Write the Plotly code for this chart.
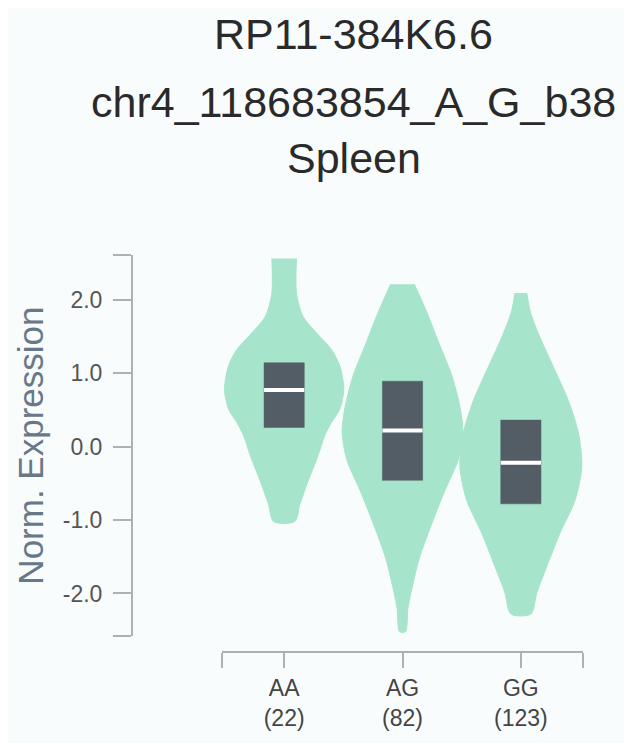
import plotly.graph_objects as go

# ---- data ----
genotypes = ["AA", "AG", "GG"]
counts = [22, 82, 123]

# violin outlines: expression levels (y) and half-widths (category units)
aa_y = [2.56, 2.09, 1.77, 1.50, 1.32, 1.10, 0.78, 0.51, 0.33, 0.15, -0.12, -0.48, -0.79, -1.02]
aa_w = [0.104, 0.104, 0.16, 0.30, 0.40, 0.47, 0.504, 0.47, 0.40, 0.343, 0.287, 0.20, 0.132, 0.09]

ag_y = [2.21, 1.85, 1.40, 0.95, 0.50, 0.18, -0.18, -0.63, -1.08, -1.53, -1.98, -2.21, -2.52]
ag_w = [0.10, 0.20, 0.31, 0.42, 0.49, 0.51, 0.47, 0.35, 0.24, 0.14, 0.073, 0.045, 0.025]

gg_y = [2.09, 1.84, 1.53, 1.08, 0.63, 0.18, -0.27, -0.73, -1.18, -1.63, -1.99, -2.28]
gg_w = [0.05, 0.079, 0.15, 0.276, 0.40, 0.487, 0.515, 0.458, 0.33, 0.22, 0.135, 0.084]

q1 = [0.26, -0.46, -0.78]
median = [0.77, 0.22, -0.22]
q3 = [1.14, 0.89, 0.36]

y_ticks = [-2.0, -1.0, 0.0, 1.0, 2.0]
y_range = [-2.581, 2.608]
x_range = [-0.525, 2.525]

title_lines = ["RP11-384K6.6", "chr4_118683854_A_G_b38", "Spleen"]
y_title = "Norm. Expression"

# ---- styles ----
VIOLIN = "#a7e4cc"
BOX = "#535d65"
AXIS = "#b0b0b0"
BG = "#f9fcfc"
FONT = "Liberation Sans, Arial, sans-serif"
box_w = 0.34

fig = go.Figure()

profiles = [(aa_y, aa_w), (ag_y, ag_w), (gg_y, gg_w)]
for i, (ys, ws) in enumerate(profiles):
    xs = [i + w for w in ws] + [i - w for w in reversed(ws)]
    yy = list(ys) + list(reversed(ys))
    fig.add_trace(go.Scatter(
        x=xs, y=yy, mode="lines", fill="toself",
        fillcolor=VIOLIN, line=dict(color=VIOLIN, width=1, shape="spline", smoothing=0.8),
        hoverinfo="skip", showlegend=False))

# boxes (interquartile range)
bx, by = [], []
for i, (a, b) in enumerate(zip(q1, q3)):
    l, r = i - box_w / 2, i + box_w / 2
    bx += [l, r, r, l, l, None]
    by += [a, a, b, b, a, None]
fig.add_trace(go.Scatter(x=bx, y=by, mode="lines", fill="toself",
                         fillcolor=BOX, line=dict(color=BOX, width=0.5),
                         hoverinfo="skip", showlegend=False))

# medians
mx, my = [], []
for i, m in enumerate(median):
    mx += [i - box_w / 2, i + box_w / 2, None]
    my += [m, m, None]
fig.add_trace(go.Scatter(x=mx, y=my, mode="lines",
                         line=dict(color="white", width=4),
                         hoverinfo="skip", showlegend=False))

x_tickvals = [x_range[0] + 0.002] + list(range(len(genotypes))) + [x_range[1] - 0.002]
x_ticktext = [""] + [f"{g}<br>({c})" for g, c in zip(genotypes, counts)] + [""]
y_tickvals = [y_range[0] + 0.003] + y_ticks + [y_range[1] - 0.003]
y_ticktext = [""] + [f"{v:.1f}" for v in y_ticks] + [""]

fig.update_layout(
    width=624, height=735,
    margin=dict(l=124, r=49, t=247, b=88),
    paper_bgcolor=BG, plot_bgcolor=BG,
    showlegend=False, hovermode=False,
    font=dict(family=FONT),
    xaxis=dict(
        domain=[0.1996, 1], range=x_range, anchor="free", position=0,
        showline=True, linecolor=AXIS, linewidth=2,
        ticks="outside", ticklen=15, tickwidth=2, tickcolor=AXIS,
        tickvals=x_tickvals, ticktext=x_ticktext,
        tickfont=dict(size=23, color="#444", family=FONT),
        showgrid=False, zeroline=False),
    yaxis=dict(
        domain=[0.04, 1], range=y_range, anchor="free", position=0,
        showline=True, linecolor=AXIS, linewidth=2,
        ticks="outside", ticklen=18, tickwidth=2, tickcolor=AXIS,
        tickvals=y_tickvals, ticktext=y_ticktext, ticklabelstandoff=6,
        tickfont=dict(size=23, color="#555", family=FONT),
        showgrid=False, zeroline=False),
)

title_y = [1.5575, 1.385, 1.245]
for txt, ty in zip(title_lines, title_y):
    fig.add_annotation(text=txt, x=0.492, y=ty, xref="paper", yref="paper",
                       xanchor="center", yanchor="middle", showarrow=False,
                       font=dict(size=43, color="#2a2a2a", family=FONT))

fig.add_annotation(text=y_title, x=-0.226, y=0.52, xref="paper", yref="paper",
                   xanchor="center", yanchor="middle", textangle=-90, showarrow=False,
                   font=dict(size=35, color="#687888", family=FONT))

fig.write_html("out.html")
